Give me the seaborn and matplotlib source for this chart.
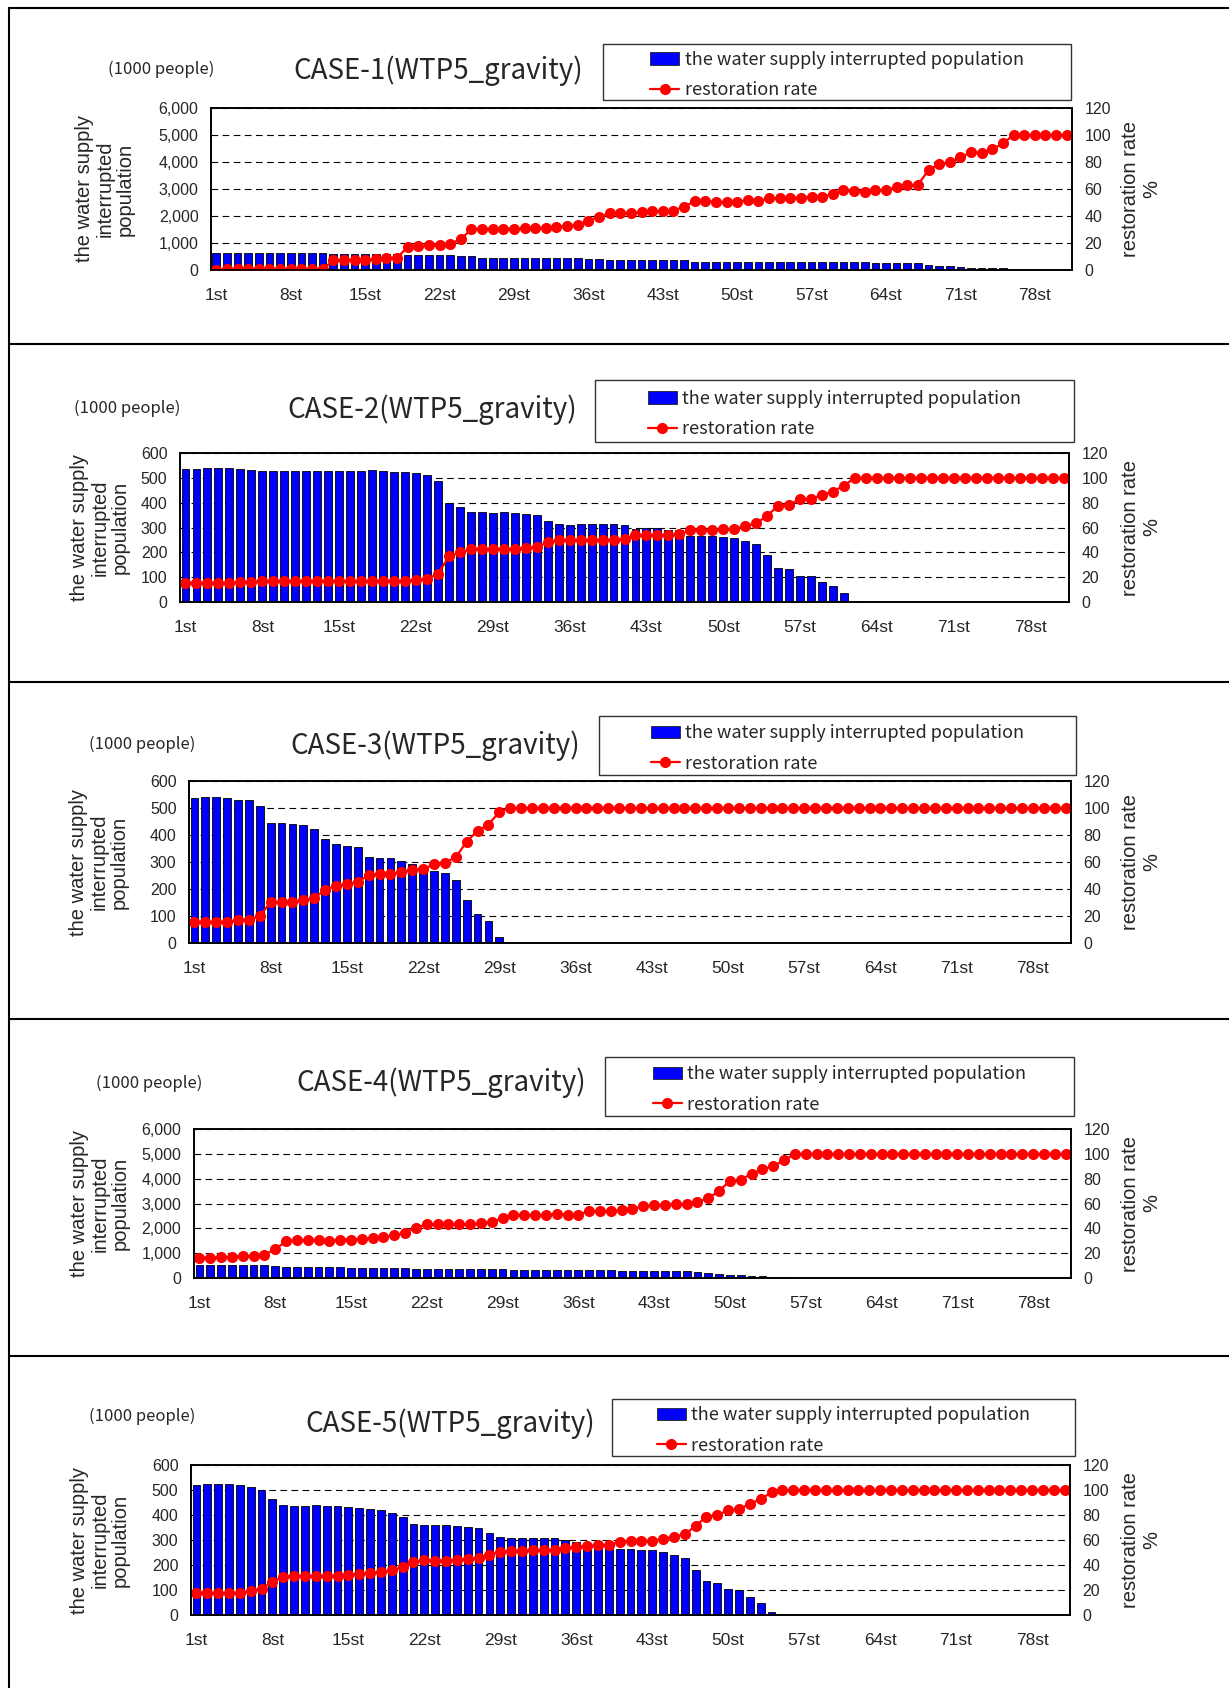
import numpy as np
import matplotlib
matplotlib.use("Agg")
import matplotlib.pyplot as plt
from matplotlib.patches import Patch, Rectangle
from matplotlib.lines import Line2D
from matplotlib.ticker import FuncFormatter, FixedLocator
import seaborn as sns

# ---- data ----
days = np.arange(1, 82)
day_labels = [f"{d}st" for d in days]
label_days = list(range(1, 82, 7))  # 1st, 8st, ..., 78st

titles = ["CASE-1(WTP5_gravity)", "CASE-2(WTP5_gravity)", "CASE-3(WTP5_gravity)",
          "CASE-4(WTP5_gravity)", "CASE-5(WTP5_gravity)"]

case1_pop = ([630] * 11 + [580] * 7 + [545] * 5 + [520] * 2 + [445] * 10
             + [420, 400, 375] + [360] * 7
             + [310, 310, 310, 310, 310, 305, 305, 305, 300, 300, 300, 300]
             + [285] * 5 + [250] * 5 + [185, 150, 150, 100, 75, 75, 75, 60] + [0] * 6)
case1_rate = ([0] + [0.5] * 10 + [7.2, 7.4, 7.7, 7.7, 7.9, 8.6, 9.1]
              + [17.0, 17.5, 18.3, 18.3, 19.5, 22.7, 30.4, 30.4, 30.4, 30.6, 30.6, 30.9,
                 31.1, 31.4, 31.9, 32.6, 33.3, 36.5, 39.5]
              + [42.0, 42.5, 42.0, 43.0, 43.5, 43.5, 44.0, 46.9, 50.9, 50.9, 50.4, 50.1,
                 50.6, 51.6, 51.1, 53.1, 53.3, 53.3, 53.6, 54.3, 54.1, 56.5, 59.0, 58.8,
                 58.0, 59.0, 59.3, 61.2, 63.0, 63.0, 74.0, 78.5, 79.8, 83.5, 87.2, 86.9,
                 89.4, 93.8]
              + [100] * 6)

case2_pop = ([535, 535, 538, 538, 538, 534, 530, 527, 528, 528, 528, 526, 526, 526, 526,
              526, 526, 531, 527, 524, 524, 520, 513, 489, 399, 381, 363, 363, 360, 363,
              358, 354, 349, 326, 314, 311, 314, 314, 314, 313, 310, 294, 296, 296, 291,
              291, 267, 267, 267, 261, 259, 245, 232, 189, 137, 132, 105, 105, 81, 63, 36, 3]
             + [0] * 19)
case2_rate = ([15.6, 15.6, 15.4, 15.4, 15.4, 15.9, 16.4] + [16.7] * 14
              + [18.0, 18.6, 22.6, 36.7, 39.9, 42.3, 42.3, 42.3, 42.3, 42.9, 43.4, 44.5, 48.0]
              + [49.9] * 6
              + [50.7, 53.6, 53.6, 53.6, 53.9, 54.4, 57.7, 57.7, 57.7, 58.5, 58.8, 61.2,
                 63.3, 69.5, 77.6, 78.2, 83.0, 83.0, 86.3, 88.9, 93.8]
              + [100] * 20)

case3_pop = ([538, 540, 539, 537, 530, 528, 507, 445, 445, 441, 436, 424, 386, 366, 360,
              354, 318, 314, 314, 304, 294, 283, 266, 260, 234, 161, 107, 81, 21]
             + [0] * 52)
case3_rate = ([15.7] * 4
              + [16.9, 17.4, 19.9, 30.3, 30.3, 30.3, 31.6, 33.3, 39.3, 42.5, 43.7, 45.0,
                 50.4, 51.2, 51.2, 52.7, 54.2, 54.7, 58.4, 59.6, 63.6, 75.0, 83.2, 87.7, 97.1]
              + [100] * 52)

case4_pop = ([525] * 4 + [515] * 3 + [490] + [445] * 6 + [420] * 5 + [395] + [365] * 9
             + [315] * 10 + [270] * 7 + [242, 215, 161, 121, 108, 81, 67, 54, 27] + [0] * 26)
case4_rate = ([16.4, 16.4, 16.7, 17.0, 17.5, 17.8, 18.8, 23.1, 29.6, 30.4, 30.4, 30.4,
               29.9, 31.0, 31.0, 31.8, 32.0, 33.1, 34.5, 36.3, 40.6, 43.1, 43.1, 43.3,
               43.1, 43.1, 43.9, 45.2, 48.2, 50.9, 50.9, 50.6, 50.6, 51.7, 50.9, 51.1,
               53.6, 53.6, 53.6, 54.4, 55.2, 58.1, 58.4, 58.7, 59.2, 59.2, 61.4, 64.1,
               70.3, 78.1, 79.1, 84.0, 87.5, 90.2, 94.8]
              + [100] * 26)

case5_pop = ([520, 523, 525, 524, 520, 513, 500, 465, 439, 436, 436, 439, 436, 436, 433,
              427, 423, 419, 407, 391, 365, 359, 359, 359, 356, 351, 347, 327, 311, 309,
              308, 307, 308, 307, 299, 292, 289, 285, 265, 265, 263, 259, 259, 252, 240,
              227, 181, 135, 128, 104, 99, 72, 49, 12]
             + [0] * 27)
case5_rate = ([17.9, 17.9, 17.3, 17.6, 17.9, 19.2, 21.1, 26.4, 30.7, 31.2, 30.9, 31.2,
               31.5, 31.5, 31.7, 33.1, 33.6, 34.4, 35.7, 38.4, 42.4, 43.7, 43.5, 43.5,
               44.0, 44.5, 45.6, 48.0, 50.7, 51.2, 51.5, 51.7, 51.7, 52.0, 53.6, 54.7,
               55.2, 55.7, 55.7, 58.7, 59.2, 59.5, 59.5, 60.8, 62.7, 64.5, 71.2, 78.7,
               80.0, 83.7, 84.5, 89.1, 92.5, 98.4]
              + [100] * 27)

pops = [case1_pop, case2_pop, case3_pop, case4_pop, case5_pop]
rates = [case1_rate, case2_rate, case3_rate, case4_rate, case5_rate]
left_max = [6000, 600, 600, 6000, 600]

# ---- layout in reference pixels ----
W, H = 1229, 1688
panels = [
    dict(plot=(211, 108, 1072, 270), legend=(603, 44, 1071, 100), title=(438, 71), unit=(161, 69), ylab=105),
    dict(plot=(180, 453, 1069, 602), legend=(595, 380, 1074, 442), title=(432, 410), unit=(127, 408), ylab=100),
    dict(plot=(189, 781, 1071, 943), legend=(599, 716, 1076, 775), title=(435, 746), unit=(142, 744), ylab=99),
    dict(plot=(194, 1129, 1071, 1278), legend=(605, 1057, 1074, 1116), title=(441, 1083), unit=(149, 1083), ylab=100),
    dict(plot=(191, 1465, 1070, 1615), legend=(612, 1399, 1075, 1456), title=(450, 1424), unit=(142, 1416), ylab=100),
]
rlab_x = 1141
separators = [8, 344, 682, 1019, 1356]

sns.set_style("white")
plt.rcParams["font.family"] = ["Liberation Sans", "DejaVu Sans"]
jp_font = ["Noto Sans CJK JP", "DejaVu Sans"]

BLUE = "#0000FF"
RED = "#FF0000"


def fx(x):
    return x / W


def fy(y):
    return 1 - y / H


fig = plt.figure(figsize=(W / 100, H / 100), dpi=100)
fig.patch.set_facecolor("white")

for i, p in enumerate(panels):
    x0, y0, x1, y1 = p["plot"]
    ax = fig.add_axes([fx(x0), fy(y1), (x1 - x0) / W, (y1 - y0) / H])
    sns.barplot(x=days, y=pops[i], ax=ax, color=BLUE, saturation=1,
                edgecolor="black", linewidth=0.6, width=0.72, errorbar=None)
    ax.set_xlim(-0.5, len(days) - 0.5)
    top = left_max[i]
    ax.set_ylim(0, top)
    ax.set_yticks(np.arange(0, top + 1, top // 6))
    ax.yaxis.set_major_formatter(FuncFormatter(lambda v, _: f"{int(v):,}"))
    ax.set_axisbelow(True)
    ax.yaxis.grid(True, color="black", linestyle=(0, (6, 4)), linewidth=0.8)
    ax.xaxis.grid(False)
    ax.set_xlabel("")
    ax.set_ylabel("")

    # labels at day centres, tick marks at category boundaries
    ax.xaxis.set_major_locator(FixedLocator([d - 1 for d in label_days]))
    ax.set_xticklabels([day_labels[d - 1] for d in label_days])
    ax.xaxis.set_minor_locator(FixedLocator([d - 1.5 for d in label_days]))
    ax.tick_params(axis="x", which="major", length=0, pad=13, labelsize=12.5)
    ax.tick_params(axis="x", which="minor", direction="in", length=5, width=1, color="black")
    ax.tick_params(axis="y", direction="in", length=0, pad=9, labelsize=11.5)

    ax2 = ax.twinx()
    sns.lineplot(x=np.arange(len(days)), y=rates[i], ax=ax2, color=RED, marker="o",
                 markersize=8, markeredgewidth=0, linewidth=1.6)
    ax2.set_ylim(0, 120)
    ax2.set_yticks(np.arange(0, 121, 20))
    ax2.set_xlim(-0.5, len(days) - 0.5)
    ax2.set_ylabel("")
    ax2.tick_params(axis="y", direction="in", length=0, pad=9, labelsize=11.5)

    for a in (ax, ax2):
        for s in a.spines.values():
            s.set_color("black")
            s.set_linewidth(1.2)

    yc = (y0 + y1) / 2
    fig.text(fx(p["ylab"]), fy(yc), "the water supply\ninterrupted\npopulation",
             rotation=90, ha="center", va="center", multialignment="center",
             fontsize=14.5, linespacing=1.1)
    fig.text(fx(rlab_x), fy(yc), "restoration rate\n%", rotation=90,
             ha="center", va="center", multialignment="center", fontsize=14.5,
             linespacing=1.1)

    fig.text(fx(p["title"][0]), fy(p["title"][1]), titles[i], ha="center", va="center",
             fontsize=20, family=jp_font)
    fig.text(fx(p["unit"][0]), fy(p["unit"][1]), "(1000 people)", ha="center", va="center",
             fontsize=12, family=jp_font)

    lx0, ly0, lx1, ly1 = p["legend"]
    fig.add_artist(Rectangle((fx(lx0), fy(ly1)), (lx1 - lx0) / W, (ly1 - ly0) / H,
                             transform=fig.transFigure, fill=False,
                             edgecolor="#333333", linewidth=1.0))
    handles = [Patch(facecolor=BLUE, edgecolor="#222222", linewidth=0.6),
               Line2D([], [], color=RED, marker="o", markersize=7, linewidth=1.6)]
    fig.legend(handles, ["the water supply interrupted population", "restoration rate"],
               loc="center", bbox_to_anchor=(fx((lx0 + lx1) / 2), fy((ly0 + ly1) / 2 + 3)),
               bbox_transform=fig.transFigure, frameon=False,
               prop={"family": jp_font, "size": 13},
               handlelength=1.6, handletextpad=0.3, labelspacing=0.68, borderpad=0)

# outer frame and panel separators
for y in separators:
    fig.add_artist(Line2D([fx(9), 1], [fy(y), fy(y)], transform=fig.transFigure,
                          color="black", linewidth=1.5))
fig.add_artist(Line2D([fx(9), fx(9)], [fy(8), 0], transform=fig.transFigure,
                      color="black", linewidth=1.5))

fig.savefig("out.png", dpi=100)
